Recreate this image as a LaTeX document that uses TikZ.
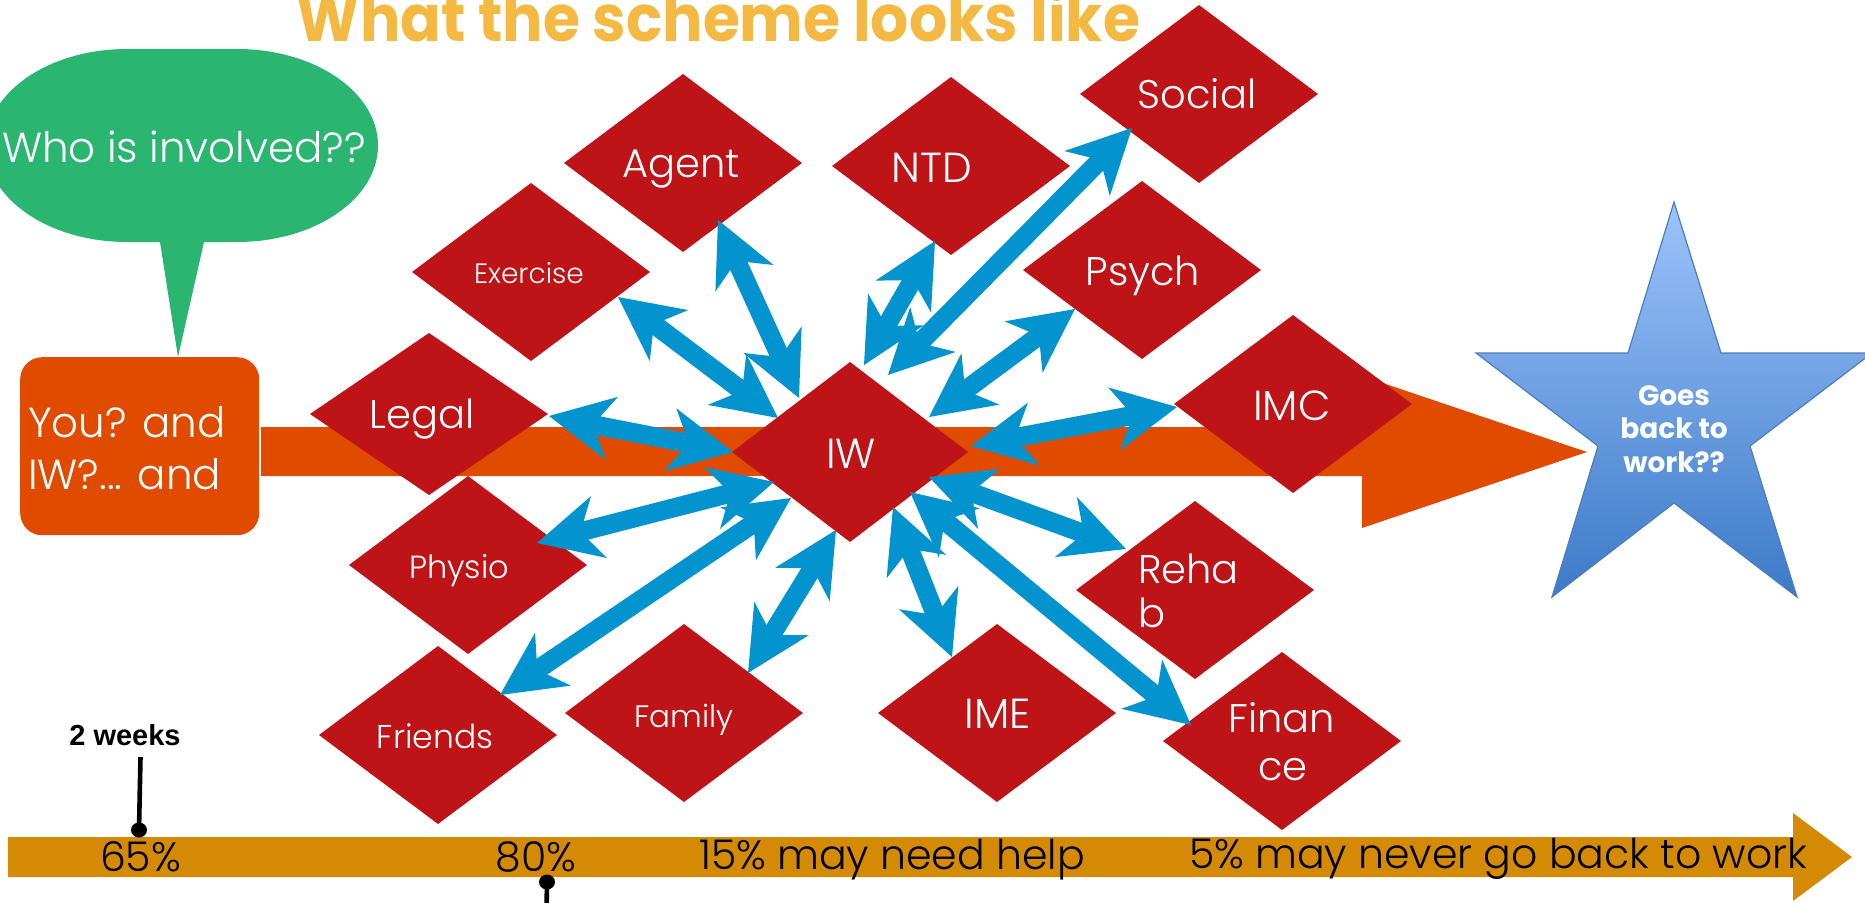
\documentclass[tikz,border=0pt]{standalone}
\usepackage{fontspec}
\setmainfont{Poppins}
\IfFontExistsTF{Poppins Light}{\newfontfamily\lightf{Poppins Light}}{\newfontfamily\lightf{Poppins}}
\newfontfamily\arialf{Liberation Sans}
\usetikzlibrary{arrows.meta,calc,shapes.geometric}
\definecolor{dred}{HTML}{BE1418}
\definecolor{ablue}{HTML}{0394CF}
\definecolor{borange}{HTML}{E04B00}
\definecolor{bubg}{HTML}{2AB671}
\definecolor{barcol}{HTML}{D48A05}
\definecolor{titlecol}{HTML}{F4B942}
\definecolor{startop}{HTML}{9DC3FB}
\definecolor{starbot}{HTML}{3C7AC8}
\definecolor{staredge}{HTML}{4A7EBE}
\newcommand{\fsz}[2]{\fontsize{#1}{#2}\selectfont}
\begin{document}
\begin{tikzpicture}[x=1pt,y=-1pt,
  >={Stealth[length=64pt,width=64pt,inset=19pt,line width=0pt]},
  dia/.style={shape=diamond,fill=dred,inner sep=0pt,outer sep=0pt,minimum width=238pt,minimum height=178pt},
  dtxt/.style={text=white,inner sep=0pt,anchor=base,font=\lightf\fsz{40}{40}},
  btxt/.style={text=black,inner sep=0pt,anchor=base,font=\lightf\fsz{41}{41}},
  barrow/.style={<->,draw=ablue,line width=19pt},
  dotmark/.style={shape=ellipse,fill=black,inner sep=0pt,minimum width=16pt,minimum height=15pt},
  stxt/.style={text=white,inner sep=0pt,anchor=base,font=\bfseries\fsz{28}{28}}]
\useasboundingbox (0,0) rectangle (1865,902);
\clip (0,0) rectangle (1865,902);
\fill[white] (0,0) rectangle (1865,902);
% title
\node[anchor=base,text=titlecol,inner sep=0pt] (title) at (718.5,41) {\scalebox{1}[1.08]{\resizebox{843pt}{!}{\bfseries\fsz{56}{56}What the scheme looks like}}};
% speech bubble
\fill[bubg] (127,49) -- (237,49) arc[start angle=-90,end angle=90,x radius=141,y radius=96.5]
  -- (204,242) -- (178,357) -- (160,242) -- (127,242)
  arc[start angle=90,end angle=270,x radius=141,y radius=96.5] -- cycle;
\node[anchor=base,text=white,font=\lightf\fsz{42}{42},inner sep=0pt] (who) at (184,162) {Who is involved??};
% orange box
\node[fill=borange,rounded corners=22pt,minimum width=239pt,minimum height=178pt,inner sep=0pt,anchor=north west] (box) at (20,357) {};
\node[anchor=base west,text=white,font=\lightf\fsz{42}{42},inner sep=0pt] (you) at (28,437) {You? and};
\node[anchor=base west,text=white,font=\lightf\fsz{42}{42},inner sep=0pt] (iwand) at (28,489) {IW?... and};
% big orange arrow
\fill[borange] (261,427) -- (1362,427) -- (1362,376) -- (1587,452) -- (1362,528) -- (1362,476) -- (261,476) -- cycle;
% diamonds
\node[dia] (Agent) at (683,163) {};
\node[dia] (NTD) at (951,166) {};
\node[dia] (Social) at (1199,94) {};
\node[dia] (Exercise) at (531,272) {};
\node[dia] (Psych) at (1142,270) {};
\node[dia,minimum height=162pt] (Legal) at (429,414) {};
\node[dia] (IMC) at (1293,404) {};
\node[dia,minimum width=236pt,minimum height=180pt] (IW) at (850,452) {};
\node[dia] (Physio) at (468,565) {};
\node[dia] (Friends) at (438,735) {};
\node[dia] (Family) at (684,713) {};
\node[dia] (IME) at (997,713) {};
\node[dia] (Rehab) at (1195,590) {};
\node[dia] (Finance) at (1282,741) {};
% diamond texts
\node[dtxt] (tAgent) at (681,177) {Agent};
\node[dtxt,font=\lightf\fsz{42}{42}] (tNTD) at (932,182) {NTD};
\node[dtxt] (tSocial) at (1197,108) {Social};
\node[dtxt,font=\lightf\fsz{28}{28}] (tExercise) at (529,283) {Exercise};
\node[dtxt] (tPsych) at (1143,285) {Psych};
\node[dtxt] (tLegal) at (422,428) {Legal};
\node[dtxt,font=\lightf\fsz{42}{42}] (tIMC) at (1292,420) {IMC};
\node[dtxt,font=\lightf\fsz{42}{42}] (tIW) at (851,468) {IW};
\node[dtxt,font=\lightf\fsz{32}{32}] (tPhysio) at (459,578) {Physio};
\node[dtxt,font=\lightf\fsz{33}{33}] (tFriends) at (435,748) {Friends};
\node[dtxt,font=\lightf\fsz{31}{31}] (tFamily) at (684,727) {Family};
\node[dtxt,font=\lightf\fsz{42}{42}] (tIME) at (998,728) {IME};
\node[dtxt,anchor=base west] (tReha) at (1138,583) {Reha};
\node[dtxt,anchor=base west] (tb) at (1138,627) {b};
\node[dtxt] (tFinan) at (1282,732) {Finan};
\node[dtxt] (tce) at (1283,780) {ce};
% blue double arrows
\draw[barrow] ($(Agent)+(35,57)$) -- ($(IW)+(-51,-54)$);
\draw[barrow] ($(Exercise)+(87,25)$) -- ($(IW)+(-72,-34)$);
\draw[barrow] ($(NTD)+(-16,75)$) -- ($(IW)+(14,-87)$);
\draw[barrow] ($(Social)+(-67,34)$) -- ($(IW)+(38,-77)$);
\draw[barrow] ($(Psych)+(-67,39)$) -- ($(IW)+(79,-35)$);
\draw[barrow] ($(IMC)+(-116,3)$) -- ($(IW)+(121,-6)$);
\draw[barrow] ($(Legal)+(120,2)$) -- ($(IW)+(-117,0)$);
\draw[barrow] ($(Physio)+(69,-22)$) -- ($(IW)+(-76,30)$);
\draw[barrow] ($(Friends)+(62,-40)$) -- ($(IW)+(-59,46)$);
\draw[barrow] ($(Family)+(64,-40)$) -- ($(IW)+(-14,78)$);
\draw[barrow] ($(IME)+(-45,-56)$) -- ($(IW)+(43,55)$);
\draw[barrow] ($(Finance)+(-91,-16)$) -- ($(IW)+(60,40)$);
\draw[barrow] ($(Rehab)+(-69,-41)$) -- ($(IW)+(79,25)$);
% star
\shadedraw[top color=startop,bottom color=starbot,draw=staredge,line width=1.2pt]
  (1674,202) -- (1721,353) -- (1872,353) -- (1750,446) -- (1797,597) -- (1674,503)
  -- (1552,597) -- (1598,446) -- (1476,353) -- (1628,353) -- cycle;
\node[stxt] (goes) at (1674,405) {Goes};
\node[stxt] (backto) at (1674,438) {back to};
\node[stxt] (work) at (1674,472) {work??};
% bottom timeline
\fill[barcol] (8,837) -- (1793,837) -- (1793,813) -- (1852,857) -- (1793,901) -- (1793,877) -- (8,877) -- cycle;
\node[btxt] (p65) at (140.5,871) {65\%};
\node[btxt] (p80) at (536,871) {80\%};
\node[btxt] (p15) at (892,869) {15\% may need help};
\node[btxt] (p5) at (1498,868) {5\% may never go back to work};
% markers
\node[font=\arialf\bfseries\fsz{29}{29},anchor=base,inner sep=0pt] (wk) at (125,745) {2 weeks};
\coordinate (wkline) at (140.5,757);
\node[dotmark] (dot1) at (139,830) {};
\draw[line width=4.6pt] (wkline) -- (dot1.center);
\node[dotmark] (dot2) at (547,882) {};
\coordinate (low) at (546.5,910);
\draw[line width=4.6pt] (dot2.center) -- (low);
\end{tikzpicture}
\end{document}
